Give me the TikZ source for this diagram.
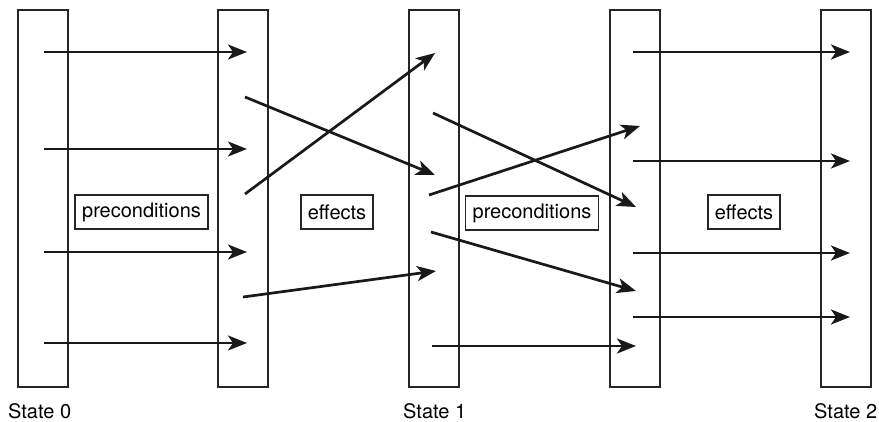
\documentclass[tikz,border=0pt]{standalone}
\usepackage{fontspec}
\setmainfont{TeX Gyre Heros}
\usetikzlibrary{arrows.meta}
\begin{document}
\begin{tikzpicture}[x=1pt,y=-1pt,
  column/.style={draw=black!85,line width=1.6pt,minimum width=50pt,minimum height=377pt,inner sep=0pt,anchor=north west},
  label/.style={draw=black!85,line width=1.5pt,minimum height=34pt,inner xsep=7pt,inner ysep=0pt,font=\fontsize{20pt}{24pt}\selectfont},
  statetxt/.style={anchor=base west,inner sep=0pt,font=\fontsize{20pt}{24pt}\selectfont},
  arr/.style={line width=2.7pt,draw=black!90,-{Stealth[length=19pt,width=15pt,inset=5pt]}}]
\useasboundingbox (0,0) rectangle (879,422);
% columns
\node[column] (c0) at (17,9) {};
\node[column] (c1) at (217,9) {};
\node[column] (c2) at (408,9) {};
\node[column] (c3) at (609,9) {};
\node[column] (c4) at (820,9) {};
% labels
\node[label] (p1) at (141.5,212) {preconditions};
\node[label] (e1) at (337,212) {effects};
\node[label] (p2) at (532,213) {preconditions};
\node[label] (e2) at (744,212) {effects};
\node[statetxt] (s0) at (8,418) {State 0};
\node[statetxt] (s1) at (403,418) {State 1};
\node[statetxt] (s2) at (814,418) {State 2};
% endpoints
\coordinate (a1) at (44,52);  \coordinate (b1) at (247,52);
\coordinate (a2) at (44,149); \coordinate (b2) at (247,149);
\coordinate (a3) at (44,252); \coordinate (b3) at (247,252);
\coordinate (a4) at (44,343); \coordinate (b4) at (247,343);
\coordinate (m1) at (245,97);  \coordinate (n1) at (435,175);
\coordinate (m2) at (245,194); \coordinate (n2) at (435,53);
\coordinate (m3) at (243,297); \coordinate (n3) at (436,271);
\coordinate (q1) at (433,113); \coordinate (r1) at (636,207);
\coordinate (q2) at (429,195); \coordinate (r2) at (640,126);
\coordinate (q3) at (431,232); \coordinate (r3) at (636,291);
\coordinate (q4) at (432,346); \coordinate (r4) at (636,346);
\coordinate (u1) at (633,52);  \coordinate (v1) at (850,52);
\coordinate (u2) at (633,161); \coordinate (v2) at (850,161);
\coordinate (u3) at (633,253); \coordinate (v3) at (850,253);
\coordinate (u4) at (633,317); \coordinate (v4) at (850,317);
% arrows
\foreach \s/\t in {a1/b1,a2/b2,a3/b3,a4/b4,m1/n1,m2/n2,m3/n3,q1/r1,q2/r2,q3/r3,q4/r4,u1/v1,u2/v2,u3/v3,u4/v4}
  \draw[arr] (\s) -- (\t);
\end{tikzpicture}
\end{document}
